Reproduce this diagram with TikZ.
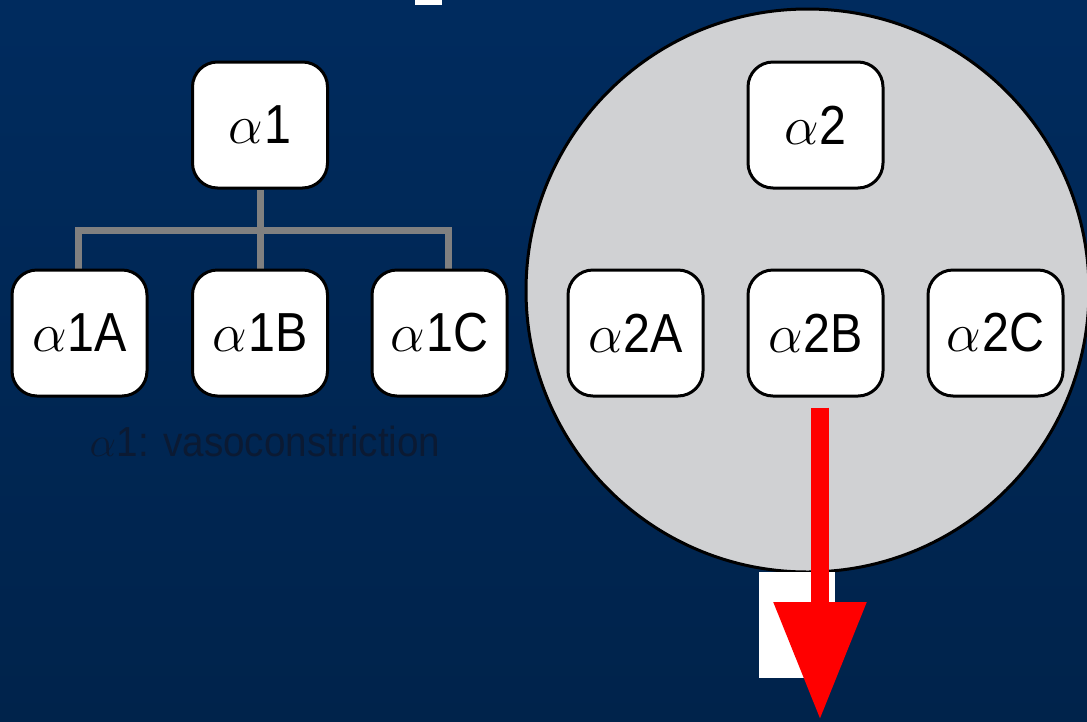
\documentclass[tikz,border=0pt]{standalone}
\usepackage{fix-cm}
\usepackage{fontspec}
\setmainfont{Liberation Sans}
\newfontfamily\boxfont{Liberation Sans}[FakeStretch=0.88]
\newfontfamily\capfont{Liberation Sans}[FakeStretch=0.92]
\usetikzlibrary{arrows.meta,calc}
\definecolor{navytop}{HTML}{002B5E}
\definecolor{navybot}{HTML}{00234B}
\definecolor{circgray}{HTML}{D0D1D3}
\definecolor{connGray}{HTML}{808080}
\definecolor{capText}{HTML}{0B1A33}
\newcommand{\alp}{\ensuremath{\alpha}\kern0.02em}
\pgfdeclarelayer{bg}
\pgfsetlayers{bg,main}
\tikzset{
  rbox/.style={draw=black, line width=3pt, fill=white, rounded corners=25pt,
    minimum width=135pt, minimum height=126pt, inner sep=0pt,
    font=\fontsize{55}{60}\boxfont, text=black},
  conn/.style={draw=connGray, line width=7pt, line cap=butt, line join=miter},
  caption/.style={font=\fontsize{42}{48}\capfont, text=capText, inner sep=0pt},
  redarrow/.style={draw=red, line width=18.7pt,
    -{Triangle[length=118pt,width=88pt]}}
}
\begin{document}
\begin{tikzpicture}[x=1pt,y=-1pt]
\useasboundingbox (0,0) rectangle (1087,721);
\clip (0,0) rectangle (1087,721);

\begin{pgfonlayer}{bg}
  % backdrop
  \fill[top color=navytop, bottom color=navybot] (0,0) rectangle (1087,721);
  \fill[white] (415,0) rectangle (442,4.7);
  % alpha-2 family disc
  \draw[line width=3pt, fill=circgray] (807.5,290.5) circle[radius=281.5];
  % label patch under the arrow head
  \fill[white] (759,572) rectangle (835,677.7);
\end{pgfonlayer}

% alpha-1 family
\node[rbox] (a1)  at (260,125)   {\alp1};
\node[rbox] (a1a) at (79.5,333)  {\alp1A};
\node[rbox] (a1b) at (260,333)   {\alp1B};
\node[rbox] (a1c) at (439.5,333) {\alp1C};

% alpha-2 family
\node[rbox] (a2)  at (815.5,125) {\alp2};
\node[rbox] (a2a) at (635.5,333) {\alp2A};
\node[rbox] (a2b) at (815.5,333) {\alp2B};
\node[rbox] (a2c) at (995.5,333) {\alp2C};

\node[caption, anchor=base] (cap) at (265,456.7) {\alp1: vasoconstriction};

% tree connectors
\coordinate (bus) at (260,230);
\begin{pgfonlayer}{bg}
  \draw[conn] (a1.south) -- (a1b.north);
  \draw[conn] ([xshift=-1.5pt]a1a.north) |- (bus) -| ([xshift=8.5pt]a1c.north);
\end{pgfonlayer}

% downward arrow from alpha-2B
\coordinate (tip) at (820,720);
\draw[redarrow] ($(a2b.south -| tip)+(0,10)$) -- (tip);
\end{tikzpicture}
\end{document}
